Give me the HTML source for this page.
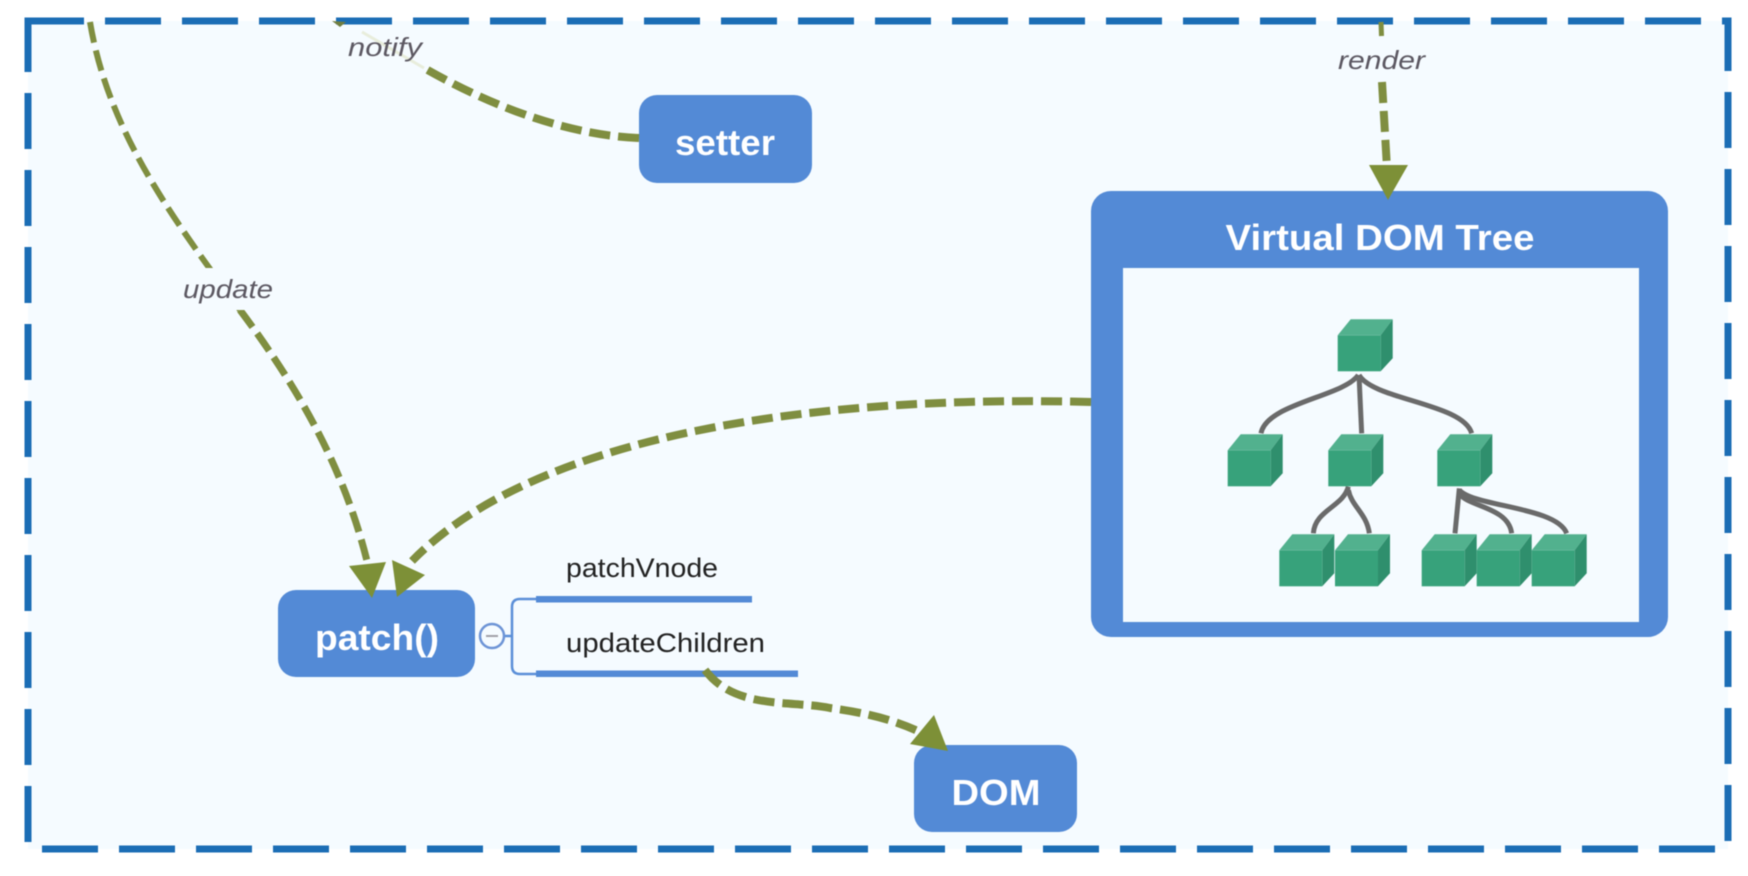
<!DOCTYPE html>
<html>
<head>
<meta charset="utf-8">
<style>
html,body{margin:0;padding:0;background:#fff;width:1748px;height:876px;overflow:hidden}
svg{display:block;filter:blur(.6px)}
text{font-family:"Liberation Sans",sans-serif}
.n{fill:#fff;font-weight:bold;font-size:36px}
.l{fill:#5c5862;font-style:italic;font-size:26px}
.t{fill:#222;font-size:27px}
.o{fill:none;stroke:#7f8e40;stroke-width:8;stroke-dasharray:21 8}
.a{fill:#7d9037}
</style>
</head>
<body>
<svg width="1748" height="876" viewBox="0 0 1748 876" xmlns="http://www.w3.org/2000/svg">
<defs>
<g id="c">
<polygon points="0,2 13,-14 55,-14 43,2" fill="#52b18e"/>
<polygon points="43,2 55,-14 55,25 43,38" fill="#2f8f6d"/>
<rect x="0" y="2" width="43" height="36" fill="#37a27b"/>
</g>
</defs>

<rect x="28" y="21" width="1700" height="828" fill="#f5fbff"/>
<path d="M28,21H1728V849H28Z" fill="none" stroke="#1b6db5" stroke-width="7" stroke-dasharray="56 21"/>

<!-- nodes -->
<rect x="639" y="95" width="173" height="88" rx="18" fill="#538ad6"/>
<text class="n" x="725" y="155" text-anchor="middle" textLength="100" lengthAdjust="spacingAndGlyphs">setter</text>
<rect x="278" y="590" width="197" height="87" rx="18" fill="#538ad6"/>
<text class="n" x="377" y="650" text-anchor="middle" textLength="124" lengthAdjust="spacingAndGlyphs">patch()</text>
<rect x="914" y="745" width="163" height="87" rx="18" fill="#538ad6"/>
<text class="n" x="996" y="805" text-anchor="middle" textLength="89" lengthAdjust="spacingAndGlyphs">DOM</text>

<rect x="1091" y="191" width="577" height="446" rx="20" fill="#538ad6"/>
<rect x="1123" y="268" width="516" height="354" fill="#f5fbff"/>
<text class="n" x="1380" y="250" text-anchor="middle" textLength="309" lengthAdjust="spacingAndGlyphs">Virtual DOM Tree</text>

<!-- tree -->
<g transform="translate(1180,300) scale(.33333)" fill="none" stroke="#6a6a6a" stroke-width="15">
<path d="M535,225C490,290 260,310 243,400"/>
<path d="M537,225L545,400"/>
<path d="M537,225C580,300 850,310 875,400"/>
<path d="M505,560C490,620 405,630 400,700"/>
<path d="M505,570C515,620 560,640 568,700"/>
<path d="M838,565L825,700"/>
<path d="M838,580C860,620 985,620 995,700"/>
<path d="M838,570C880,620 1130,620 1160,700"/>
</g>
<use href="#c" x="1337.7" y="333.3"/>
<use href="#c" x="1227.7" y="448.3"/>
<use href="#c" x="1328.3" y="448.3"/>
<use href="#c" x="1437.3" y="448.3"/>
<use href="#c" x="1279.3" y="548.3"/>
<use href="#c" x="1335" y="548.3"/>
<use href="#c" x="1421.7" y="548.3"/>
<use href="#c" x="1476.7" y="548.3"/>
<use href="#c" x="1531.7" y="548.3"/>

<!-- branches -->
<path d="M536,599H520Q512,599 512,607V666Q512,674 520,674H536" fill="none" stroke="#5b8fd8" stroke-width="2.5"/>
<path d="M504,636H512" fill="none" stroke="#5b8fd8" stroke-width="2.5"/>
<circle cx="492" cy="636" r="12" fill="#f5fbff" stroke="#6d94d6" stroke-width="2.5"/>
<path d="M486,636H498" stroke="#a0a0a8" stroke-width="2"/>
<rect x="536" y="596" width="216" height="6.5" fill="#538ad6"/>
<rect x="536" y="670.5" width="262" height="6.5" fill="#538ad6"/>
<text class="t" x="566" y="577" textLength="152" lengthAdjust="spacingAndGlyphs">patchVnode</text>
<text class="t" x="566" y="652" textLength="199" lengthAdjust="spacingAndGlyphs">updateChildren</text>

<!-- connectors -->
<path class="o" style="stroke-width:6" d="M90,22C108,130 170,215 240,310"/>
<path class="o" style="stroke-width:7" d="M240,310C300,390 345,470 368,565"/>
<rect x="180" y="268" width="96" height="42" fill="#f5fbff"/>
<text class="l" x="183" y="298" textLength="90" lengthAdjust="spacingAndGlyphs">update</text>
<polygon class="a" points="349,566 386,562 372,598"/>

<path d="M424,68L362,32" fill="none" stroke="#e8eddc" stroke-width="3"/>
<path class="o" d="M639,138C560,135 480,100 424,68"/>
<polygon fill="#6f7d40" points="332,21 346,22 340,27"/>
<text class="l" x="348" y="56" textLength="74" lengthAdjust="spacingAndGlyphs">notify</text>

<path class="o" style="stroke-width:5" d="M1381,22L1381.5,36"/>
<path class="o" d="M1382,82L1387,168"/>
<polygon class="a" points="1369,165 1408,165 1388,200"/>
<text class="l" x="1338" y="69" textLength="87" lengthAdjust="spacingAndGlyphs">render</text>

<path class="o" d="M1091,402C830,395 540,430 412,561"/>
<polygon class="a" points="392,560 425,575 397,597"/>

<path class="o" d="M705,670C735,710 790,700 830,708C860,712 890,718 920,732"/>
<polygon class="a" points="934,715 910,744 948,751"/>
</svg>
</body>
</html>
